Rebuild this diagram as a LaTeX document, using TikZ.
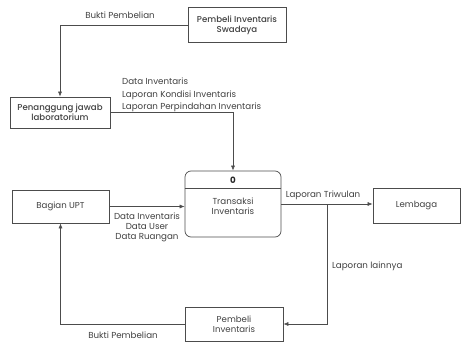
\documentclass[tikz,border=0pt]{standalone}
\usepackage{fontspec}
\setmainfont{Poppins}[BoldFont={Poppins Medium}]
\newfontfamily\heavyfont{Poppins}
\usepackage{tikz}
\usetikzlibrary{arrows.meta,positioning}

\begin{document}
\begin{tikzpicture}[
  x=1pt, y=-1pt,
  entity/.style={rectangle, draw=black!70, line width=0.7pt, align=center,
                 inner sep=1pt, font=\fontsize{8.6}{10}\selectfont, text=black!75},
  process/.style={rectangle, draw=black!70, line width=0.7pt, rounded corners=6pt,
                  minimum width=96pt, minimum height=66pt},
  flow/.style={-{Latex[length=5pt,width=4pt]}, draw=black!70, line width=0.6pt},
  lbl/.style={font=\fontsize{8.7}{10}\selectfont, text=black!75, inner sep=0pt},
]
  \useasboundingbox (0,0) rectangle (462,345);

  % External entities
  \node[entity, minimum width=98pt, minimum height=35pt] (swadaya) at (237,25)
    {\bfseries Pembeli Inventaris\\\bfseries Swadaya};
  \node[entity, minimum width=100pt, minimum height=31pt] (pj) at (60,112.5)
    {\bfseries Penanggung jawab\\\bfseries laboratorium};
  \node[entity, minimum width=97pt, minimum height=33pt] (upt) at (60.5,206.5) {Bagian UPT};
  \node[entity, minimum width=87pt, minimum height=35pt] (lembaga) at (416.5,205.5) {Lembaga};
  \node[entity, minimum width=98pt, minimum height=34pt] (pembeli) at (234,324)
    {Pembeli\\Inventaris};

  % Process 0
  \node[process] (proc) at (233,204) {};
  \draw[draw=black!70, line width=0.7pt] (proc.west |- 0,188) -- (proc.east |- 0,188);
  \node[lbl, font=\fontsize{8.7}{10}\heavyfont\bfseries, text=black!85] (procnum) at (233,180) {0};
  \node[lbl, align=center] (procname) at (233,206) {Transaksi\\Inventaris};

  % Flows
  \draw[flow] (swadaya.west) -| (pj.north);
  \node[lbl] at (120,15) {Bukti Pembelian};

  \draw[flow] (pj.east) -| (proc.north);
  \node[lbl, align=left, anchor=north west, font=\fontsize{8.7}{12.5}\selectfont] at (122,78)
    {Data Inventaris\\Laporan Kondisi Inventaris\\Laporan Perpindahan Inventaris};

  \draw[flow] (upt.east) -- (upt.east -| proc.west);
  \node[lbl, align=center, anchor=north, font=\fontsize{8.7}{9.8}\selectfont] at (147,213)
    {Data Inventaris\\Data User\\Data Ruangan};

  \draw[flow] (proc.east) -- (proc.east -| lembaga.west);
  \node[lbl] at (323,195) {Laporan Triwulan};

  \coordinate (branch) at (327,204);
  \draw[flow] (branch) |- (pembeli.east);
  \node[lbl, anchor=west] at (332,266) {Laporan lainnya};

  \draw[flow] (pembeli.west) -| (upt.south);
  \node[lbl] at (123,335) {Bukti Pembelian};
\end{tikzpicture}
\end{document}
